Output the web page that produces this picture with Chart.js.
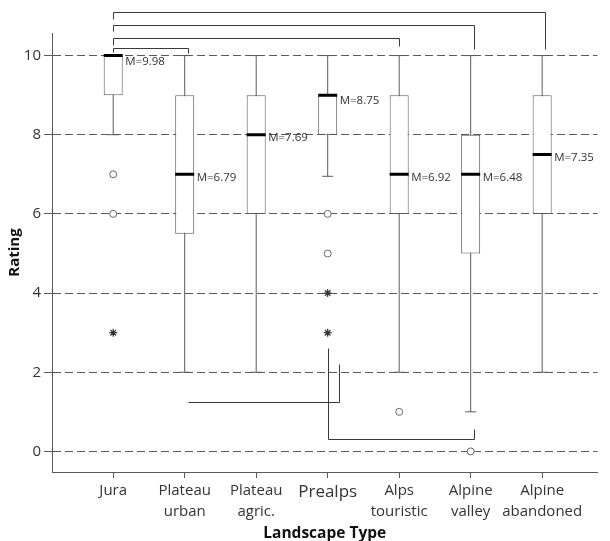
<!DOCTYPE html>
<html>
<head>
<meta charset="utf-8">
<script src="https://cdn.jsdelivr.net/npm/chart.js@4/dist/chart.umd.min.js"></script>
<style>
  html, body { margin: 0; padding: 0; background: #fff; }
  #wrap { width: 610px; height: 541px; }
</style>
</head>
<body>
<div id="wrap"><canvas id="box" width="610" height="541"></canvas></div>
<script>
// landscape types and box plot stats
const categories = ['Jura', 'Plateau\nurban', 'Plateau\nagric.', 'Prealps', 'Alps\ntouristic', 'Alpine\nvalley', 'Alpine\nabandoned'];
const q1 = [9, 5.5, 6, 8, 6, 5, 6];
const q3 = [10, 9, 9, 9, 9, 8, 9];
const medians = [10, 7, 8, 9, 7, 7, 7.5];
const means = [9.98, 6.79, 7.69, 8.75, 6.92, 6.48, 7.35];
const whiskerLow = [8, 2, 2, 6.95, 2, 1, 2];
const whiskerHigh = [10, 10, 10, 10, 10, 10, 10];
const outliers = [[7, 6], [], [], [6, 5], [1], [0], []];
const extremes = [[3], [], [], [4, 3], [], [], []];
const yTicks = [0, 2, 4, 6, 8, 10];

// significance brackets: [fromX, toX, level, leftLegEnd, rightLegEnd]
const sigTop = [
  [1, 2.04, 10.20, 10.10, 10.06],
  [1, 5, 10.44, 10.27, 10.25],
  [1, 6.04, 10.78, 10.61, 10.16],
  [1, 7.04, 11.11, 10.93, 10.17]
];
const sigBottom = [
  [2.04, 4.16, 1.25, null, 2.21],
  [4.01, 6.04, 0.32, 2.61, 0.57]
];

const FONT = "'Open Sans', sans-serif";
const LINE = '#5a5a5a';

const caps = [];
categories.forEach((c, i) => {
  if (whiskerLow[i] < q1[i]) caps.push({ x: i + 1, y: whiskerLow[i] });
  if (whiskerHigh[i] > q3[i]) caps.push({ x: i + 1, y: whiskerHigh[i] });
});
const outlierPts = [];
outliers.forEach((arr, i) => arr.forEach(v => outlierPts.push({ x: i + 1, y: v })));
const extremePts = [];
extremes.forEach((arr, i) => arr.forEach(v => extremePts.push({ x: i + 1, y: v })));

const meanLabels = {
  id: 'meanLabels',
  afterDatasetsDraw(chart) {
    const { ctx, scales: { x, y } } = chart;
    ctx.save();
    ctx.font = '11.5px ' + FONT;
    ctx.fillStyle = '#333';
    ctx.textAlign = 'left';
    ctx.textBaseline = 'middle';
    medians.forEach((m, i) => {
      const shift = m === q3[i] ? 6 : 3;
      ctx.fillText('M=' + means[i].toFixed(2), x.getPixelForValue(i + 1) + 12, y.getPixelForValue(m) + shift);
    });
    ctx.restore();
  }
};

const brackets = {
  id: 'brackets',
  afterDraw(chart) {
    const { ctx, scales: { x, y } } = chart;
    const px = v => Math.round(x.getPixelForValue(v)) + 0.5;
    const py = v => Math.round(y.getPixelForValue(v)) + 0.5;
    ctx.save();
    ctx.strokeStyle = '#3a3a3a';
    ctx.lineWidth = 1;
    sigTop.concat(sigBottom).forEach(([a, b, lvl, l, r]) => {
      ctx.beginPath();
      if (l !== null) { ctx.moveTo(px(a), py(l)); ctx.lineTo(px(a), py(lvl)); }
      else ctx.moveTo(px(a), py(lvl));
      ctx.lineTo(px(b), py(lvl));
      if (r !== null) ctx.lineTo(px(b), py(r));
      ctx.stroke();
    });
    ctx.restore();
  }
};

new Chart(document.getElementById('box'), {
  type: 'bar',
  data: {
    datasets: [
      {
        type: 'scatter',
        label: 'median',
        data: medians.map((m, i) => ({ x: i + 1, y: m })),
        pointStyle: 'line',
        radius: 9.5,
        borderWidth: 3,
        borderColor: '#000',
        order: 0
      },
      {
        type: 'scatter',
        label: 'caps',
        data: caps,
        pointStyle: 'line',
        radius: 5.5,
        borderWidth: 1,
        borderColor: LINE,
        order: 1
      },
      {
        type: 'scatter',
        label: 'outliers',
        data: outlierPts,
        pointStyle: 'circle',
        radius: 3.5,
        borderWidth: 1,
        borderColor: '#666',
        backgroundColor: '#fff',
        order: 1
      },
      {
        type: 'scatter',
        label: 'extremes',
        data: extremePts,
        pointStyle: 'star',
        radius: 4,
        borderWidth: 1.2,
        borderColor: '#333',
        order: 1
      },
      {
        label: 'box',
        data: q1.map((v, i) => ({ x: i + 1, y: [v, q3[i]] })),
        backgroundColor: '#fff',
        borderColor: LINE,
        borderWidth: 1,
        borderSkipped: false,
        inflateAmount: 0,
        barThickness: 19,
        grouped: false,
        order: 2
      },
      {
        label: 'whisker',
        data: whiskerLow.map((v, i) => ({ x: i + 1, y: [v, whiskerHigh[i]] })),
        backgroundColor: LINE,
        borderWidth: 0,
        inflateAmount: 0,
        barThickness: 1,
        grouped: false,
        order: 3
      }
    ]
  },
  options: {
    responsive: false,
    animation: false,
    events: [],
    layout: { padding: { top: 33, right: 1, left: 0, bottom: 0 } },
    plugins: { legend: { display: false }, tooltip: { enabled: false } },
    scales: {
      x: {
        type: 'linear',
        min: 0.1438,
        max: 7.774,
        offset: false,
        afterBuildTicks: axis => { axis.ticks = categories.map((c, i) => ({ value: i + 1 })); },
        afterFit: axis => { axis.height = 69; },
        grid: { offset: false, drawOnChartArea: false, drawTicks: true, tickLength: 6, color: LINE },
        border: { color: LINE, width: 1 },
        ticks: {
          autoSkip: false,
          maxRotation: 0,
          padding: 2,
          color: '#333',
          font: ctx => ({ family: FONT, size: ctx.index === 3 ? 17 : 15, lineHeight: 1.4 }),
          callback: v => categories[v - 1].split('\n')
        },
        title: {
          display: true,
          text: 'Landscape Type',
          color: '#111',
          font: { family: FONT, size: 15.5, weight: 'bold', lineHeight: 1 },
          padding: { top: 0, bottom: 0 }
        }
      },
      y: {
        min: -0.52,
        max: 10.57,
        afterBuildTicks: axis => { axis.ticks = yTicks.map(v => ({ value: v })); },
        afterFit: axis => { axis.width = 52; },
        grid: {
          color: LINE,
          lineWidth: 1,
          tickLength: 8,
          tickBorderDash: [],
          tickColor: LINE
        },
        // in Chart.js 4, border.dash sets the dash of the grid lines
        border: { color: LINE, width: 1, dash: [8, 4] },
        ticks: { color: '#333', padding: 3, font: { family: FONT, size: 15 } },
        title: {
          display: true,
          text: 'Rating',
          color: '#111',
          font: { family: FONT, size: 15, weight: 'bold', lineHeight: 1.2 },
          padding: { top: 6, bottom: 0 }
        }
      }
    }
  },
  plugins: [meanLabels, brackets]
});
</script>
</body>
</html>
